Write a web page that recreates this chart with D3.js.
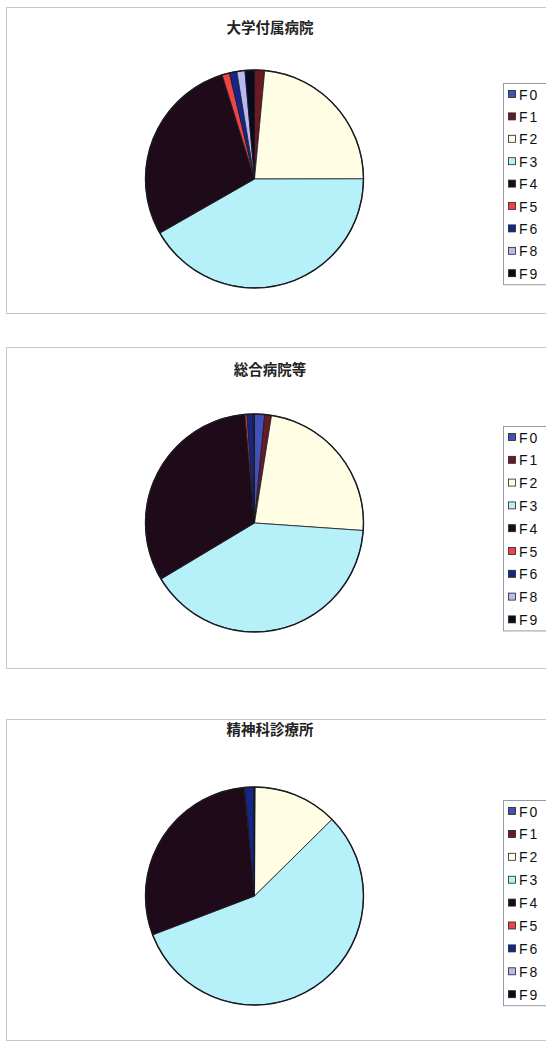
<!DOCTYPE html>
<html>
<head>
<meta charset="utf-8">
<script src="https://cdn.jsdelivr.net/npm/d3@7"></script>
<style>
  html, body { margin: 0; padding: 0; background: #ffffff; }
  svg { display: block; }
</style>
</head>
<body>
<svg id="chart" width="546" height="1041"></svg>
<script>
// Diagnostic categories (ICD-10 F codes) and their share, in percent, per facility type
const categories = ["F0", "F1", "F2", "F3", "F4", "F5", "F6", "F8", "F9"];
const colors = ["#4250b8", "#6a1a24", "#fffde4", "#b6f1fa", "#1e0a18", "#f04444", "#15268a", "#b8b8f2", "#0a0a1c"];

const titles = ["大学付属病院", "総合病院等", "精神科診療所"];
const universityHospitals = [0.0, 1.5, 23.5, 41.8, 28.5, 1.1, 1.1, 1.2, 1.4];
const generalHospitals    = [1.5, 1.0, 23.6, 40.3, 32.2, 0.3, 0.9, 0.1, 0.1];
const psychClinics        = [0.05, 0.05, 12.5, 56.6, 29.3, 0.1, 1.3, 0.0, 0.1];
const seriesList = [universityHospitals, generalHospitals, psychClinics];

// Panel frames: each holds a title, a pie and a legend
const panels = [
  { top: 7,   bottom: 313,  cy: 179, titleY: 32,  legTop: 83,  legStep: 22.4 },
  { top: 347, bottom: 668,  cy: 523, titleY: 374, legTop: 426, legStep: 22.8 },
  { top: 719, bottom: 1040, cy: 896, titleY: 734, legTop: 800, legStep: 22.9 }
];

const svg = d3.select("#chart");
const color = d3.scaleOrdinal().domain(categories).range(colors);
const pie = d3.pie().sort(null).value(d => d.value);
const radius = 109;
const arc = d3.arc().innerRadius(0).outerRadius(radius);

panels.forEach((p, i) => {
  const g = svg.append("g");

  // frame
  g.append("rect")
    .attr("x", 6.5).attr("y", p.top + 0.5)
    .attr("width", 560).attr("height", p.bottom - p.top)
    .attr("fill", "none").attr("stroke", "#c4c4d0").attr("stroke-width", 1);

  g.append("text")
    .attr("x", 270).attr("y", p.titleY + 0.5)
    .attr("text-anchor", "middle")
    .attr("font-family", "'Noto Sans CJK JP', sans-serif")
    .attr("font-weight", "bold")
    .attr("font-size", 14.5)
    .attr("fill", "#222")
    .text(titles[i]);

  const data = categories.map((c, k) => ({ cat: c, value: seriesList[i][k] }));
  const pg = g.append("g").attr("transform", `translate(254.5,${p.cy})`);
  pg.selectAll("path")
    .data(pie(data))
    .join("path")
    .attr("d", arc)
    .attr("fill", d => color(d.data.cat))
    .attr("stroke", "#1a1a22")
    .attr("stroke-width", 0.8)
    .attr("stroke-linejoin", "round");
  pg.append("circle").attr("r", radius).attr("fill", "none")
    .attr("stroke", "#1a1a22").attr("stroke-width", 1.4);

  // legend
  const legH = p.legStep * (categories.length - 1) + 22;
  g.append("rect")
    .attr("x", 503.5).attr("y", p.legTop + 0.5)
    .attr("width", 60).attr("height", legH)
    .attr("fill", "#fff").attr("stroke", "#9a9aa4").attr("stroke-width", 1);
  const items = g.selectAll("g.leg")
    .data(categories)
    .join("g")
    .attr("transform", (d, k) => `translate(0,${p.legTop + 11 + k * p.legStep})`);
  items.append("rect")
    .attr("x", 508.5).attr("y", -3.5).attr("width", 7).attr("height", 7)
    .attr("fill", d => color(d)).attr("stroke", "#222").attr("stroke-width", 0.8);
  items.append("text")
    .attr("x", 519).attr("y", 5.5)
    .attr("font-family", "'Liberation Sans', Arial, sans-serif")
    .attr("font-size", 14)
    .attr("letter-spacing", 2)
    .attr("fill", "#111")
    .text(d => d);
});
</script>
</body>
</html>
